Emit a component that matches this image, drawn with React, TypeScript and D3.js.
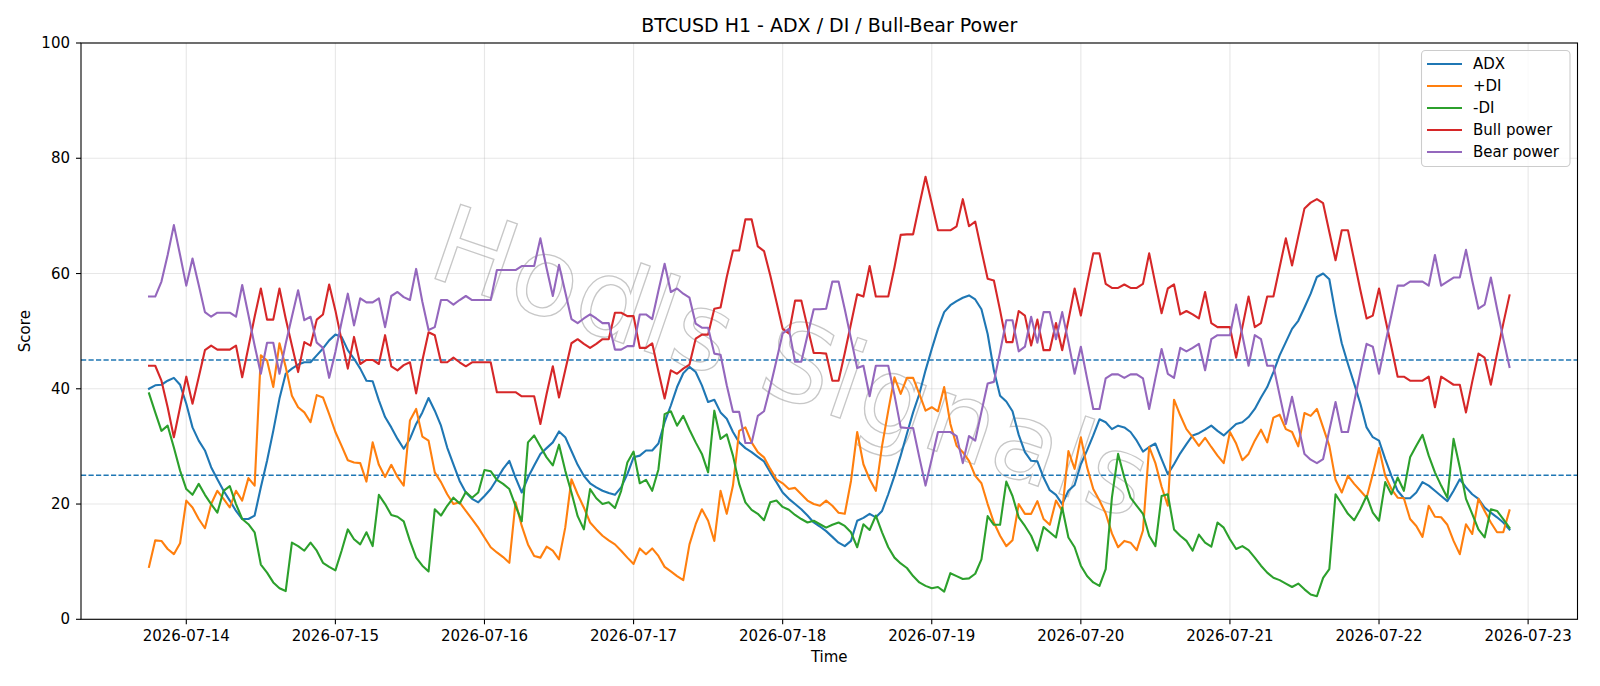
import React from "react";
import * as d3 from "d3";

// hourly bars, first one at 2026-07-13 18:00 UTC
const START = Date.UTC(2026, 6, 13, 18);
const HOUR = 3600 * 1000;

const adx = [
  40.0, 40.6, 40.7, 41.4, 41.9, 40.7, 37.4, 33.3, 31.0, 29.3, 26.4, 24.3, 22.3, 20.6, 18.8, 17.4, 17.4, 18.0, 22.9, 27.5, 32.7, 38.3, 42.6, 43.5, 44.2, 44.6, 44.6, 45.8,
  47.0, 48.4, 49.4, 49.0, 46.7, 45.2, 43.5, 41.4, 41.3, 38.0, 35.1, 33.3, 31.3, 29.6, 31.3, 33.9, 35.9, 38.4, 36.2, 33.6, 29.8, 26.9, 24.0, 22.0, 20.9, 20.3, 21.4, 22.6,
  24.3, 26.1, 27.5, 24.6, 22.0, 24.6, 26.7, 28.7, 29.7, 30.7, 32.6, 31.6, 29.2, 26.8, 24.9, 23.6, 22.9, 22.3, 21.9, 21.6, 22.9, 25.2, 28.1, 28.4, 29.3, 29.3, 30.5,
  34.2, 37.1, 40.3, 42.7, 43.8, 42.9, 40.6, 37.7, 38.1, 35.9, 34.8, 32.5, 30.7, 29.7, 29.0, 28.2, 27.4, 25.5, 23.8, 22.0, 20.9, 20.0, 19.1, 18.0, 16.8, 16.1,
  15.3, 14.3, 13.3, 12.7, 13.6, 17.1, 17.6, 18.3, 17.7, 18.8, 21.7, 24.9, 28.4, 32.2, 35.9, 39.1, 43.2, 46.9, 50.4, 53.3, 54.5, 55.2, 55.8, 56.2, 55.5, 53.8, 49.5, 43.2,
  38.8, 37.8, 36.1, 32.0, 29.0, 27.5, 27.4, 24.6, 22.4, 21.6, 20.0, 22.3, 23.3, 26.9, 29.3, 31.9, 34.7, 34.2, 33.0, 33.6, 33.3, 32.5, 31.0, 29.1, 29.9, 30.5, 27.8, 25.2,
  26.9, 28.8, 30.4, 31.9, 32.3, 32.9, 33.6, 32.7, 31.9, 32.9, 33.9, 34.2, 35.1, 36.5, 38.5, 40.3, 42.9, 45.8, 48.1, 50.4, 51.8, 54.1, 56.5, 59.4, 60.0, 59.0, 53.0,
  47.9, 44.3, 40.9, 37.4, 33.3, 31.6, 31.0, 27.8, 24.9, 22.3, 21.0, 21.0, 22.0, 23.8, 23.2, 22.3, 21.4, 20.5, 22.3, 24.3, 22.9, 21.7, 20.9, 19.4, 18.5, 17.7, 16.8, 15.6,
];

const plusDi = [
  9.1, 13.7, 13.6, 12.2, 11.3, 13.2, 20.6, 19.4, 17.4, 15.8, 20.0, 22.3, 20.9, 19.4, 22.3, 20.6, 24.5, 23.2, 45.8, 44.9, 40.3, 47.9, 43.8, 38.8, 36.8, 35.9, 34.2, 38.9,
  38.5, 35.6, 32.5, 30.1, 27.6, 27.2, 27.1, 23.9, 30.7, 26.8, 24.7, 26.8, 24.7, 23.2, 34.5, 36.5, 31.7, 31.0, 25.5, 23.8, 21.7, 20.0, 20.3, 18.8, 17.4, 15.9, 14.2, 12.5,
  11.6, 10.8, 9.8, 20.3, 16.2, 13.0, 11.0, 10.7, 12.6, 11.9, 10.4, 15.9, 24.3, 21.7, 19.4, 16.8, 15.6, 14.5, 13.7, 13.0, 11.9, 10.7, 9.6, 12.3, 11.3, 12.3, 11.0,
  9.1, 8.3, 7.5, 6.8, 13.0, 16.5, 19.1, 17.1, 13.6, 22.3, 18.3, 23.2, 32.7, 33.3, 30.7, 29.0, 28.1, 26.1, 24.3, 23.6, 22.6, 22.8, 21.7, 20.6, 20.0, 19.7,
  20.6, 19.7, 18.5, 18.3, 24.0, 32.5, 26.9, 24.3, 22.3, 30.1, 36.2, 42.0, 39.1, 41.9, 41.9, 39.1, 36.2, 36.8, 36.1, 40.3, 33.9, 30.1, 29.0, 27.5, 24.9, 23.6, 20.0, 16.8,
  14.5, 12.7, 13.7, 20.0, 18.3, 18.3, 20.5, 17.4, 16.4, 20.6, 18.8, 29.2, 26.1, 31.6, 26.4, 22.6, 20.6, 18.4, 14.9, 12.5, 13.6, 13.3, 12.0, 15.4, 29.9, 27.1, 23.0, 19.7,
  38.1, 35.4, 33.0, 31.6, 30.1, 31.5, 29.9, 28.4, 27.1, 32.5, 30.5, 27.6, 28.7, 31.0, 32.9, 30.7, 35.0, 35.5, 33.0, 32.5, 30.0, 35.8, 35.3, 36.5, 33.3, 30.1, 24.2,
  22.0, 24.9, 23.5, 22.3, 21.1, 25.2, 29.7, 24.9, 22.6, 21.1, 21.0, 17.4, 16.2, 14.3, 19.7, 17.8, 17.7, 16.4, 13.6, 11.3, 16.5, 14.8, 20.9, 18.8, 16.8, 15.1, 15.1, 18.9,
];

const minusDi = [
  39.2, 35.9, 32.7, 33.6, 29.8, 25.8, 22.6, 21.6, 23.5, 21.6, 20.0, 18.5, 22.3, 23.1, 20.0, 17.4, 16.5, 15.1, 9.5, 8.1, 6.4, 5.4, 4.9, 13.3, 12.7, 11.9, 13.3, 11.9,
  9.8, 9.1, 8.5, 11.9, 15.6, 13.9, 13.0, 15.1, 12.7, 21.6, 20.0, 18.1, 17.8, 17.0, 13.6, 10.7, 9.3, 8.3, 19.1, 18.0, 19.7, 21.1, 20.1, 22.1, 21.1, 22.0, 25.9, 25.7,
  24.2, 23.5, 22.6, 19.7, 17.0, 30.7, 31.9, 30.0, 28.1, 26.7, 30.3, 25.8, 22.0, 17.9, 15.6, 22.6, 21.0, 20.0, 20.3, 19.3, 22.3, 27.2, 29.1, 23.6, 24.2, 22.3, 26.0,
  35.6, 36.1, 33.6, 35.3, 32.9, 30.7, 28.7, 25.5, 36.2, 31.3, 32.1, 28.4, 23.5, 20.3, 19.0, 18.3, 17.2, 20.3, 20.6, 19.5, 19.0, 18.1, 17.4, 16.8, 17.1, 16.5,
  15.9, 16.4, 16.8, 16.2, 15.1, 12.5, 16.5, 15.5, 18.0, 15.1, 12.5, 10.7, 9.7, 8.9, 7.5, 6.4, 5.8, 5.4, 5.6, 4.8, 8.0, 7.5, 7.0, 7.1, 7.9, 10.4, 17.9, 16.4,
  16.4, 23.9, 21.4, 17.7, 16.2, 14.5, 11.9, 16.0, 15.1, 14.2, 19.4, 14.2, 12.5, 9.3, 7.5, 6.4, 5.8, 8.7, 21.1, 28.7, 24.6, 21.1, 19.7, 18.3, 14.5, 12.7, 21.4, 21.7,
  15.6, 14.5, 13.6, 11.9, 14.7, 13.3, 12.6, 16.8, 15.9, 13.9, 12.2, 12.7, 12.0, 10.7, 9.3, 8.1, 7.2, 6.8, 6.2, 5.6, 6.2, 5.2, 4.3, 4.0, 7.2, 8.7, 21.7,
  20.0, 18.3, 17.2, 19.1, 21.4, 18.5, 17.1, 23.8, 21.7, 24.6, 22.3, 28.1, 30.1, 32.0, 28.4, 25.5, 23.2, 21.1, 31.3, 26.4, 20.9, 18.3, 15.6, 14.2, 19.1, 18.8, 17.4, 15.9,
];

const bullPower = [
  44.0, 44.0, 41.4, 36.8, 31.6, 36.8, 42.1, 37.4, 42.0, 46.7, 47.5, 46.8, 46.8, 46.8, 47.5, 42.0, 47.2, 52.5, 57.4, 52.0, 52.0, 57.4, 52.2, 47.5, 42.9, 48.1, 47.5, 52.0,
  52.9, 58.1, 53.6, 48.4, 43.5, 49.0, 44.3, 45.0, 45.0, 44.3, 49.3, 43.9, 43.2, 44.1, 44.6, 39.2, 44.9, 49.8, 49.3, 44.6, 44.6, 45.4, 44.6, 43.9, 44.6, 44.6, 44.6, 44.6,
  39.4, 39.4, 39.4, 39.4, 38.7, 38.7, 38.7, 33.9, 39.1, 43.9, 38.5, 43.2, 47.9, 48.6, 47.8, 47.1, 47.8, 48.6, 48.6, 53.2, 53.2, 52.6, 52.6, 47.1, 47.1, 47.9, 43.0,
  38.3, 43.2, 42.6, 43.5, 44.2, 48.7, 49.4, 49.4, 53.9, 54.1, 59.4, 64.0, 64.0, 69.4, 69.4, 64.7, 63.9, 59.7, 55.1, 50.4, 49.6, 55.3, 55.3, 50.7, 46.2, 46.2,
  46.1, 41.4, 41.4, 46.2, 51.3, 56.4, 56.0, 61.3, 56.0, 56.0, 56.0, 61.1, 66.7, 66.8, 66.8, 71.9, 76.8, 72.2, 67.5, 67.5, 67.5, 68.2, 72.9, 68.2, 69.0, 64.0, 59.1, 58.8,
  53.6, 48.1, 48.1, 53.5, 52.7, 47.5, 52.0, 46.7, 46.7, 51.4, 46.7, 51.9, 57.4, 52.7, 58.2, 63.5, 63.5, 58.2, 57.5, 57.5, 58.1, 57.5, 57.5, 58.2, 63.5, 58.2, 53.1, 57.4,
  58.1, 52.9, 53.5, 52.9, 52.2, 56.8, 51.4, 50.7, 50.7, 50.7, 45.4, 50.7, 56.0, 50.7, 51.4, 56.0, 56.0, 61.1, 66.1, 61.4, 66.4, 71.3, 72.3, 72.9, 72.2, 67.2, 62.3,
  67.5, 67.5, 62.3, 57.1, 52.2, 52.7, 57.4, 52.2, 47.2, 42.1, 42.1, 41.4, 41.4, 41.4, 42.1, 36.8, 42.1, 41.4, 40.7, 40.7, 35.9, 41.2, 46.1, 45.4, 40.7, 46.1, 51.3, 56.2,
];

const bearPower = [
  56.0, 56.0, 58.6, 63.2, 68.4, 63.2, 57.9, 62.6, 58.0, 53.3, 52.5, 53.2, 53.2, 53.2, 52.5, 58.0, 52.8, 47.5, 42.6, 48.0, 48.0, 42.6, 47.8, 52.5, 57.1, 51.9, 52.5, 48.0,
  47.1, 41.9, 46.4, 51.6, 56.5, 51.0, 55.7, 55.0, 55.0, 55.7, 50.7, 56.1, 56.8, 55.9, 55.4, 60.8, 55.1, 50.2, 50.7, 55.4, 55.4, 54.6, 55.4, 56.1, 55.4, 55.4, 55.4, 55.4,
  60.6, 60.6, 60.6, 60.6, 61.3, 61.3, 61.3, 66.1, 60.9, 56.1, 61.5, 56.8, 52.1, 51.4, 52.2, 52.9, 52.2, 51.4, 51.4, 46.8, 46.8, 47.4, 47.4, 52.9, 52.9, 52.1, 57.0,
  61.7, 56.8, 57.4, 56.5, 55.8, 51.3, 50.6, 50.6, 46.1, 45.9, 40.6, 36.0, 36.0, 30.6, 30.6, 35.3, 36.1, 40.3, 44.9, 49.6, 50.4, 44.7, 44.7, 49.3, 53.8, 53.8,
  53.9, 58.6, 58.6, 53.8, 48.7, 43.6, 44.0, 38.7, 44.0, 44.0, 44.0, 38.9, 33.3, 33.2, 33.2, 28.1, 23.2, 27.8, 32.5, 32.5, 32.5, 31.8, 27.1, 31.8, 31.0, 36.0, 40.9, 41.2,
  46.4, 51.9, 51.9, 46.5, 47.3, 52.5, 48.0, 53.3, 53.3, 48.6, 53.3, 48.1, 42.6, 47.3, 41.8, 36.5, 36.5, 41.8, 42.5, 42.5, 41.9, 42.5, 42.5, 41.8, 36.5, 41.8, 46.9, 42.6,
  41.9, 47.1, 46.5, 47.1, 47.8, 43.2, 48.6, 49.3, 49.3, 49.3, 54.6, 49.3, 44.0, 49.3, 48.6, 44.0, 44.0, 38.9, 33.9, 38.6, 33.6, 28.7, 27.7, 27.1, 27.8, 32.8, 37.7,
  32.5, 32.5, 37.7, 42.9, 47.8, 47.3, 42.6, 47.8, 52.8, 57.9, 57.9, 58.6, 58.6, 58.6, 57.9, 63.2, 57.9, 58.6, 59.3, 59.3, 64.1, 58.8, 53.9, 54.6, 59.3, 53.9, 48.7, 43.8,
];

const levels = [45, 25];
const yTicks = [0, 20, 40, 60, 80, 100];

const series = [
  { name: "ADX", values: adx, color: "#1f77b4" },
  { name: "+DI", values: plusDi, color: "#ff7f0e" },
  { name: "-DI", values: minusDi, color: "#2ca02c" },
  { name: "Bull power", values: bullPower, color: "#d62728" },
  { name: "Bear power", values: bearPower, color: "#9467bd" },
];

const W = 1600;
const H = 686;
const plot = { left: 81, right: 1577.5, top: 43, bottom: 619.3 };
const FONT = "DejaVu Sans, sans-serif";

export default function App() {
  const times = adx.map((_, i) => new Date(START + i * HOUR));
  const t0 = +times[0];
  const t1 = +times[times.length - 1];
  const pad = (t1 - t0) * 0.05; // matplotlib default margins

  const x = d3
    .scaleUtc()
    .domain([new Date(t0 - pad), new Date(t1 + pad)])
    .range([plot.left, plot.right]);
  const y = d3.scaleLinear().domain([0, 100]).range([plot.bottom, plot.top]);

  const dayTicks = d3.utcDay.range(d3.utcDay.ceil(x.domain()[0]), x.domain()[1]);
  const fmt = d3.utcFormat("%Y-%m-%d");

  const line = d3
    .line<number>()
    .x((_, i) => x(times[i]))
    .y(d => y(d));

  const cx = (plot.left + plot.right) / 2;

  return (
    <svg
      width={W}
      height={H}
      style={{ position: "absolute", left: 0, top: 0, background: "#fff" }}
      fontFamily={FONT}
    >
      <rect x={0} y={0} width={W} height={H} fill="#fff" />

      {/* grid */}
      <g stroke="#b0b0b0" strokeOpacity={0.3} strokeWidth={1.1}>
        {dayTicks.map(d => (
          <line key={+d} x1={x(d)} x2={x(d)} y1={plot.top} y2={plot.bottom} />
        ))}
        {yTicks.map(t => (
          <line key={t} x1={plot.left} x2={plot.right} y1={y(t)} y2={y(t)} />
        ))}
      </g>

      {/* watermark */}
      <text
        transform="translate(792,362) rotate(19)"
        textAnchor="middle"
        dominantBaseline="central"
        fontSize={108}
        letterSpacing={2}
        fill="none"
        stroke="#9a9a9a"
        strokeWidth={1.3}
        opacity={0.55}
      >
        Hodls Signals
      </text>

      {/* threshold lines */}
      {levels.map(l => (
        <line
          key={l}
          x1={plot.left}
          x2={plot.right}
          y1={y(l)}
          y2={y(l)}
          stroke="#1f77b4"
          strokeWidth={1.4}
          strokeDasharray="5.2,2.3"
        />
      ))}

      {/* series */}
      {series.map(s => (
        <path
          key={s.name}
          d={line(s.values) || ""}
          fill="none"
          stroke={s.color}
          strokeWidth={2.1}
          strokeLinejoin="round"
          strokeLinecap="square"
        />
      ))}

      {/* spines */}
      <rect
        x={plot.left}
        y={plot.top}
        width={plot.right - plot.left}
        height={plot.bottom - plot.top}
        fill="none"
        stroke="#000"
        strokeWidth={1.1}
      />

      {/* y axis */}
      {yTicks.map(t => (
        <g key={t}>
          <line x1={plot.left - 5} x2={plot.left} y1={y(t)} y2={y(t)} stroke="#000" strokeWidth={1.1} />
          <text x={plot.left - 11} y={y(t)} textAnchor="end" dominantBaseline="central" fontSize={15}>
            {t}
          </text>
        </g>
      ))}

      {/* x axis */}
      {dayTicks.map(d => (
        <g key={+d}>
          <line x1={x(d)} x2={x(d)} y1={plot.bottom} y2={plot.bottom + 5} stroke="#000" strokeWidth={1.1} />
          <text x={x(d)} y={plot.bottom + 22} textAnchor="middle" fontSize={15}>
            {fmt(d)}
          </text>
        </g>
      ))}

      <text x={cx} y={662} textAnchor="middle" fontSize={15}>
        Time
      </text>
      <text
        transform={`translate(30,${(plot.top + plot.bottom) / 2}) rotate(-90)`}
        textAnchor="middle"
        fontSize={15}
      >
        Score
      </text>
      <text x={cx} y={32} textAnchor="middle" fontSize={19}>
        BTCUSD H1 - ADX / DI / Bull-Bear Power
      </text>

      {/* legend */}
      <g>
        <rect
          x={1421.5}
          y={50.5}
          width={148.5}
          height={116}
          rx={4}
          fill="#fff"
          fillOpacity={0.8}
          stroke="#cccccc"
          strokeWidth={1.1}
        />
        {series.map((s, i) => (
          <g key={s.name}>
            <line
              x1={1427}
              x2={1462}
              y1={64 + i * 22}
              y2={64 + i * 22}
              stroke={s.color}
              strokeWidth={2.1}
            />
            <text x={1473} y={64 + i * 22} dominantBaseline="central" fontSize={15}>
              {s.name}
            </text>
          </g>
        ))}
      </g>
    </svg>
  );
}
